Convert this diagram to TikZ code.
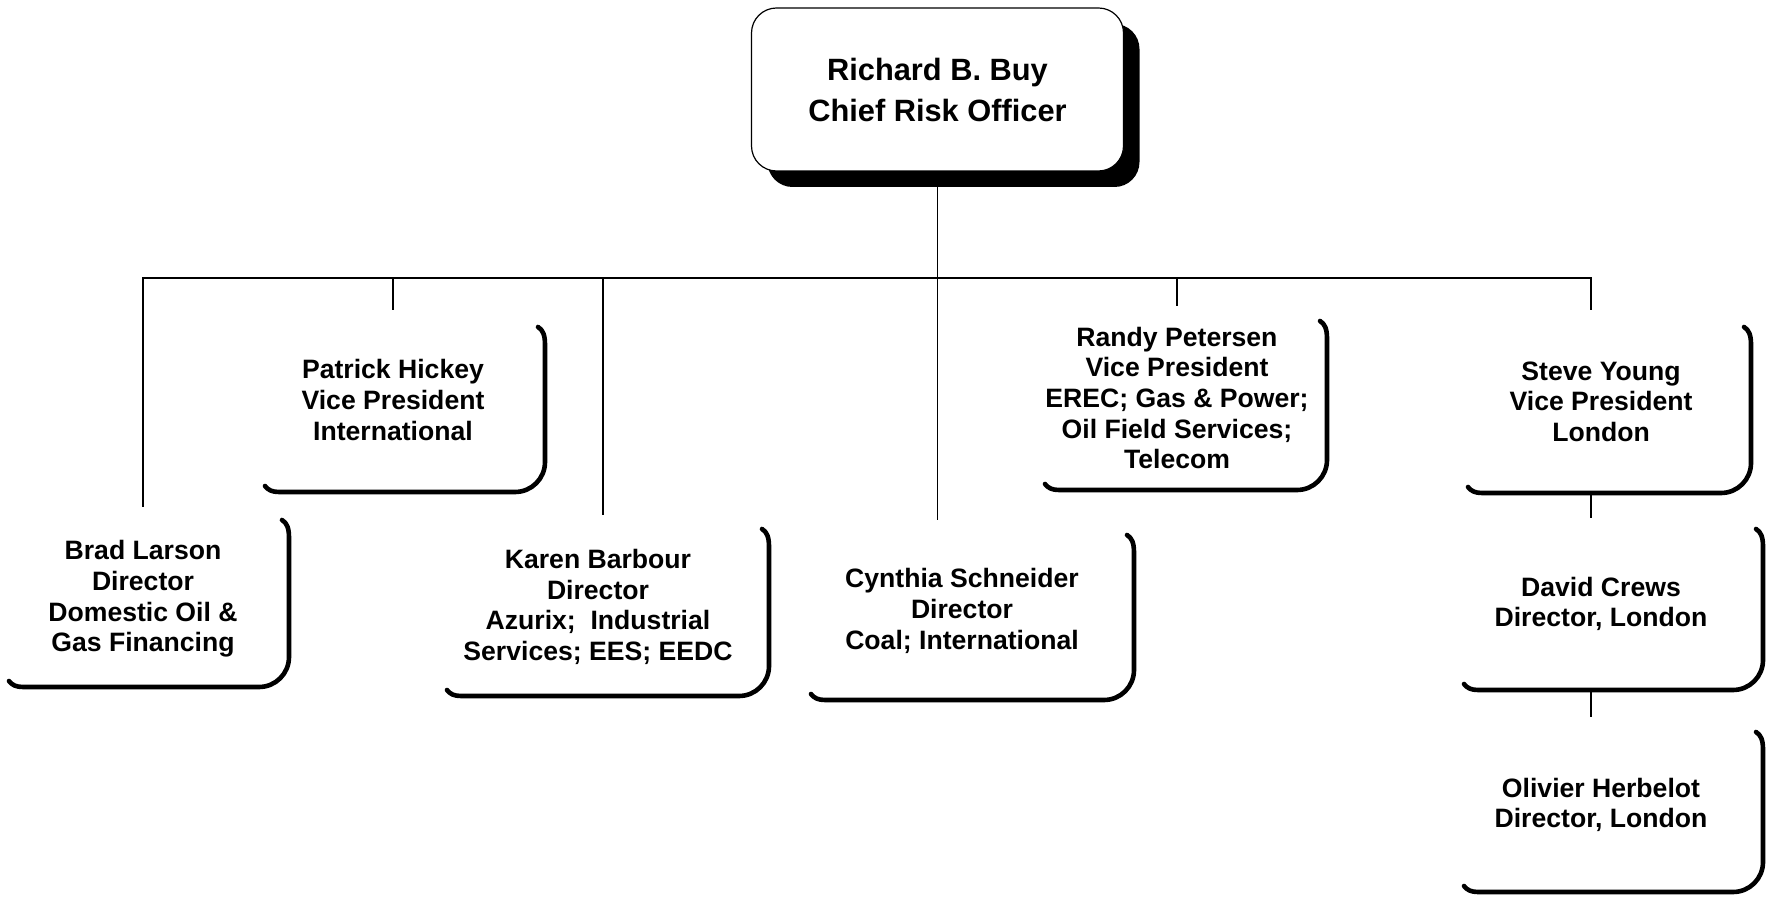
\documentclass[tikz,border=0pt]{standalone}
\usepackage{fontspec}
\setmainfont{Liberation Sans}
\usetikzlibrary{shadows}

% right and bottom rim of a card: L T R B (in px units of the picture)
\newcommand\cardrim[4]{%
  \draw[rim] (#3-7,#2) .. controls (#3-2,#2+3) and (#3,#2+8) .. (#3,#2+18)
    -- (#3,#4-30) .. controls (#3,#4-13.4) and (#3-13.4,#4) .. (#3-30,#4)
    -- (#1+14,#4) .. controls (#1+7,#4) and (#1+3,#4-2) .. (#1,#4-6);}

\begin{document}
\begin{tikzpicture}[x=0.5pt,y=-0.5pt,
  conn/.style={line width=0.95pt},
  rim/.style={line width=2.3pt, line cap=round, line join=round},
  person/.style={align=center, inner sep=0pt,
    font=\fontsize{13.3pt}{15.3pt}\selectfont\bfseries},
  chiefbox/.style={draw, line width=0.6pt, rounded corners=12.5pt, fill=white,
    minimum width=186pt, minimum height=81.5pt, align=center,
    font=\fontsize{15.4pt}{20.5pt}\selectfont\bfseries,
    drop shadow={shadow xshift=8pt, shadow yshift=-8pt, opacity=1, fill=black}}]
\useasboundingbox (0,0) rectangle (1766,897);

% head of the unit
\node[chiefbox] (chief) at (937.5,89.5) {Richard B. Buy\\Chief Risk Officer};

% direct reports
\node[person, minimum height=90pt] (patrick) at (393,400)
  {Patrick Hickey\\Vice President\\International};
\node[person, minimum height=92pt] (brad) at (143,599)
  {Brad Larson\\Director\\Domestic Oil \&\\Gas Financing};
\node[person, minimum height=92pt] (karen) at (598,607)
  {Karen Barbour\\Director\\Azurix;\ \ Industrial\\Services; EES; EEDC};
\node[person, minimum height=91pt] (cynthia) at (962,611)
  {Cynthia Schneider\\Director\\Coal; International};
\node[person, minimum height=92pt] (randy) at (1177,398)
  {Randy Petersen\\Vice President\\EREC; Gas \& Power;\\Oil Field Services;\\Telecom};
\node[person, minimum height=91.5pt] (steve) at (1601,401.5)
  {Steve Young\\Vice President\\London};
\node[person, minimum height=86pt] (david) at (1601,604)
  {David Crews\\Director, London};
\node[person, minimum height=88pt] (olivier) at (1601,805)
  {Olivier Herbelot\\Director, London};

% card rims
\cardrim{265}{327}{545}{492}
\cardrim{9}{520}{289}{687}
\cardrim{447}{529}{769}{696}
\cardrim{811}{535}{1134}{700}
\cardrim{1045}{321}{1327}{490}
\cardrim{1468}{327}{1751}{493}
\cardrim{1464}{529}{1763}{690}
\cardrim{1464}{732}{1763}{892}

% reporting lines
\coordinate (bus) at (937.5,278);
\draw[conn] (chief.south) -- (chief.south |- cynthia.north);
\draw[conn] (brad.north) |- (bus) -| ([xshift=-5pt]steve.north);
\draw[conn] (bus -| patrick.north) -- (patrick.north);
\draw[conn] ([xshift=2.5pt]karen.north |- bus) -- ([xshift=2.5pt]karen.north);
\draw[conn] (bus -| randy.north) -- (randy.north);
\draw[conn] ([xshift=-5pt]steve.south) -- ([xshift=-5pt]david.north);
\draw[conn] ([xshift=-5pt]david.south) -- ([xshift=-5pt]olivier.north);
\end{tikzpicture}
\end{document}
